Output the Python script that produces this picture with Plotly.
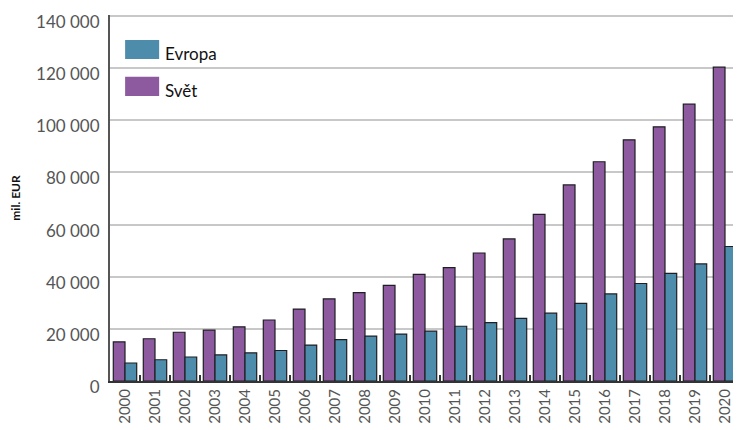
import plotly.graph_objects as go

years = [str(y) for y in range(2000, 2021)]
svet = [15000, 16200, 18700, 19500, 20800, 23400, 27600, 31500, 33900, 36700, 40900,
        43500, 49100, 54500, 63900, 75200, 84100, 92500, 97500, 106200, 120400]
evropa = [6900, 8150, 9200, 10000, 10800, 11700, 13800, 15900, 17200, 18000, 19100,
          21000, 22400, 24000, 26000, 29800, 33400, 37400, 41300, 44900, 51600]

purple = '#8d5a9f'
teal = '#4e8cab'
edge = '#1e1e24'

fig = go.Figure()
fig.add_trace(go.Bar(x=years, y=svet, name='Svět', marker_color=purple,
                     marker_line=dict(color=edge, width=1.2), showlegend=False))
fig.add_trace(go.Bar(x=years, y=evropa, name='Evropa', marker_color=teal,
                     marker_line=dict(color=edge, width=1.2), showlegend=False))

# legend drawn by hand to get the large swatches
legend_items = [('Evropa', teal, 0.932, 0.880), ('Svět', purple, 0.831, 0.779)]
for label, color, y1, y0 in legend_items:
    fig.add_shape(type='rect', xref='paper', yref='paper', x0=0.024, x1=0.078, y0=y0, y1=y1,
                  fillcolor=color, line_width=0)
    fig.add_annotation(xref='paper', yref='paper', x=0.084, y=(y0 + y1) / 2 - 0.012,
                       text=label, showarrow=False, xanchor='left', yanchor='middle',
                       font=dict(size=17, color='#111'))

# the page body has an 8px margin, so the figure is sized to fill the rest of the window
fig.update_layout(
    width=733, height=422,
    margin=dict(l=102, r=1, t=7, b=49),
    paper_bgcolor='white', plot_bgcolor='white',
    font=dict(family='Lato', color='#555'),
    barmode='group', bargap=0.22, bargroupgap=0.0,
    separators=', ',
)
fig.update_xaxes(
    type='category', tickangle=-90, tickfont=dict(size=15, color='#555'),
    showline=True, linecolor='#333', linewidth=2, automargin=False,
    ticks='inside', tickson='boundaries', ticklen=6, tickcolor='#333', tickwidth=2,
    showgrid=False,
)
fig.update_yaxes(
    range=[0, 140400], dtick=20000, tickformat=',d',
    tickfont=dict(size=17, color='#555'), automargin=False, ticklabeloverflow='allow',
    showline=True, linecolor='#555', linewidth=2,
    gridcolor='#c8c8c8', gridwidth=2, zeroline=False,
    ticks='', ticklabelstandoff=5, ticklabelshift=6,
    title=dict(text='<b>mil. EUR</b>', font=dict(size=12, color='#111'), standoff=14),
)

fig.write_html("out.html")
